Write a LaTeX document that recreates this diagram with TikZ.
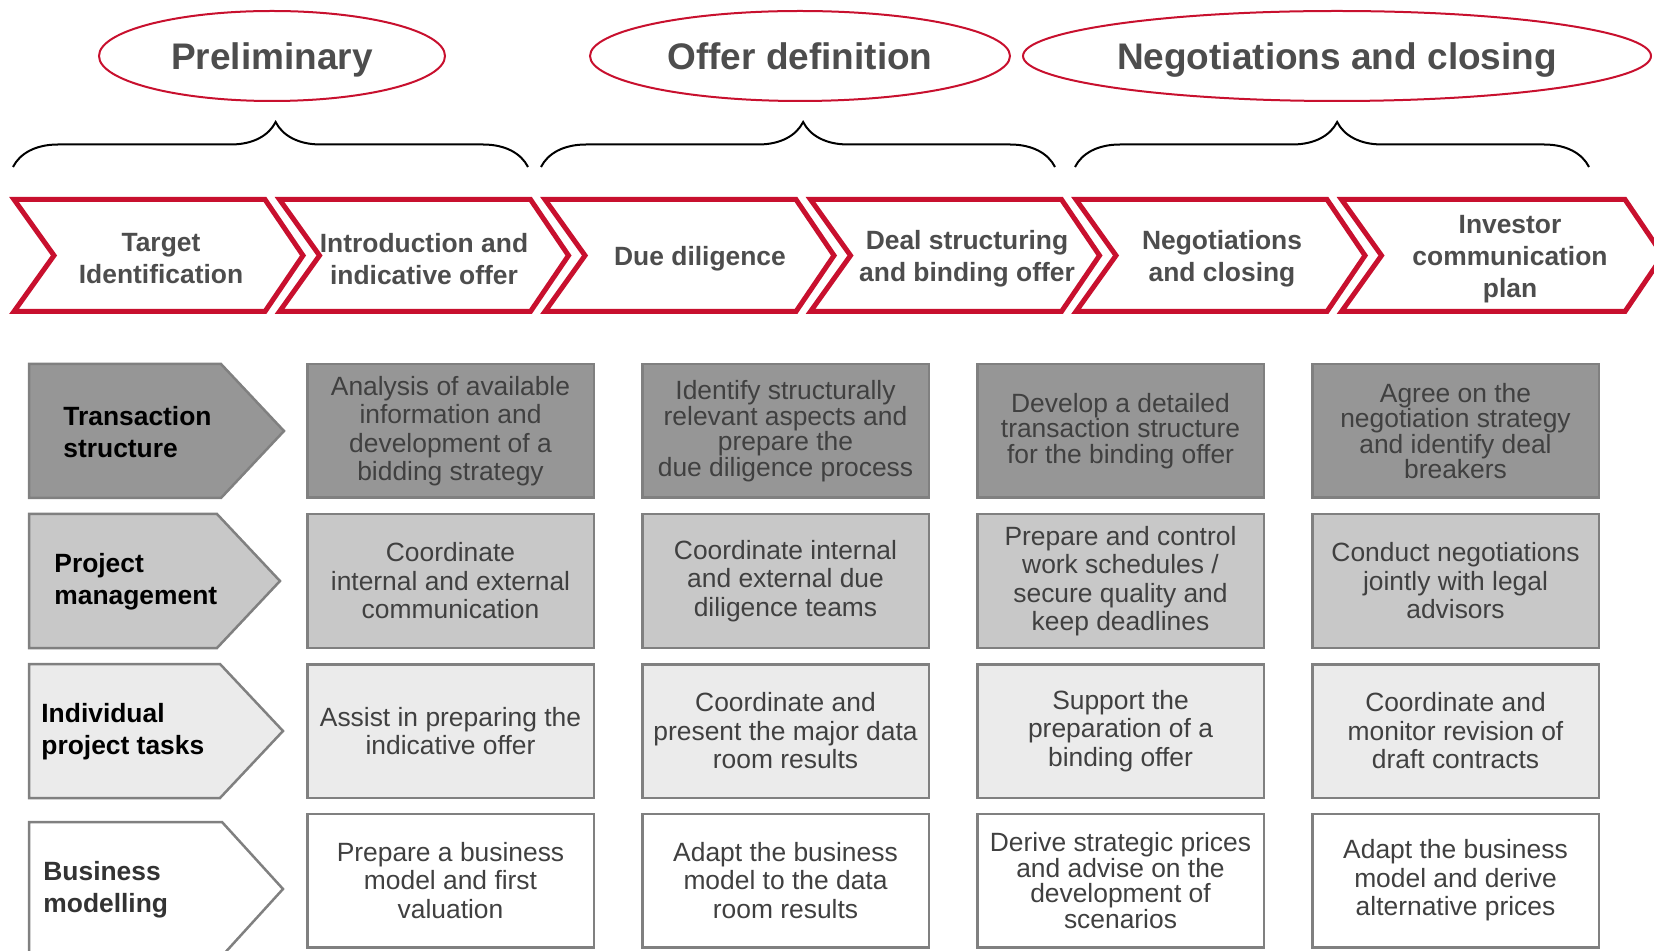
\documentclass[tikz,border=0pt]{standalone}
\usepackage{fontspec}
\setmainfont{Liberation Sans}
\usetikzlibrary{shapes.geometric,decorations.pathreplacing}

\definecolor{dealred}{RGB}{200,16,46}
\definecolor{headgray}{RGB}{77,77,77}
\definecolor{boxtext}{RGB}{64,64,64}
\definecolor{edgegray}{RGB}{128,128,128}
\definecolor{rowdark}{RGB}{150,150,150}
\definecolor{rowmid}{RGB}{200,200,200}
\definecolor{rowlight}{RGB}{235,235,235}

\begin{document}
\begin{tikzpicture}[x=0.5pt, y=-0.5pt,
  phasering/.style = {draw=dealred, line width=1pt, ellipse, minimum height=45pt, inner sep=0pt,
    text height=13.3pt, text depth=0pt, text=headgray, font=\fontsize{18.5}{22}\selectfont\bfseries},
  bracket/.style = {draw=black, line width=1pt, decorate, decoration={brace, amplitude=22.5pt, aspect=0.51}},
  stagebox/.style = {draw=dealred, line width=2.5pt, fill=white},
  stagetext/.style = {align=center, inner sep=0pt, text=headgray, font=\fontsize{13.2}{16}\selectfont\bfseries},
  rowbox/.style = {draw=edgegray, line width=1.25pt},
  rowtext/.style = {anchor=west, align=left, inner sep=0pt, font=\fontsize{13.2}{16}\selectfont\bfseries},
  taskcell/.style = {draw=edgegray, line width=1.25pt, minimum width=143.25pt, minimum height=66.75pt,
    align=center, inner sep=0pt, text=boxtext, font=\fontsize{13.2}{14.25}\selectfont},
  tightlead/.style = {font=\fontsize{13.2}{12.75}\selectfont}]
\useasboundingbox (0,0) rectangle (1654,951);

% phases
\node[phasering, minimum width=173pt] (ph1) at (272,56) {Preliminary};
\node[phasering, minimum width=210pt] (ph2) at (800,56) {Offer definition};
\node[phasering, minimum width=314pt] (ph3) at (1337,56) {Negotiations and closing};

\draw[bracket] (13,167) -- (528,167);
\draw[bracket] (541,167) -- (1055,167);
\draw[bracket] (1075,167) -- (1589,167);

% process steps
\foreach \xa in {14, 279.5, 545, 810.5, 1076}
  \draw[stagebox] (\xa,199.5) -- ++(251,0) -- ++(38,56) -- ++(-38,56) -- ++(-251,0) -- ++(40,-56) -- cycle;
\draw[stagebox] (1341.5,199.5) -- ++(283.5,0) -- ++(38,56) -- ++(-38,56) -- ++(-283.5,0) -- ++(40,-56) -- cycle;

\node[stagetext] (st1) at (161,259) {Target\\Identification};
\node[stagetext] (st2) at (424,259) {Introduction and\\indicative offer};
\node[stagetext] (st3) at (700,259) {Due diligence};
\node[stagetext] (st4) at (967,259) {Deal structuring\\and binding offer};
\node[stagetext] (st5) at (1222,259) {Negotiations\\and closing};
\node[stagetext] (st6) at (1510,259) {Investor\\communication\\plan};

% row headers
\draw[rowbox, fill=rowdark] (29,364) -- (221,364) -- (284,431) -- (221,498) -- (29,498) -- cycle;
\draw[rowbox, fill=rowmid] (29,514) -- (217,514) -- (280,581) -- (217,648) -- (29,648) -- cycle;
\draw[rowbox, fill=rowlight] (29,664) -- (220,664) -- (283,731) -- (220,798) -- (29,798) -- cycle;
\draw[rowbox, fill=white] (29,822) -- (222,822) -- (283,889) -- (222,956) -- (29,956) -- cycle;

\node[rowtext] (lb1) at (63,432) {Transaction\\structure};
\node[rowtext] (lb2) at (54,582) {Project\\management};
\node[rowtext] (lb3) at (41,732) {Individual\\project tasks};
\node[rowtext, text=black!80] (lb4) at (43,890) {Business\\modelling};

% transaction structure
\node[taskcell, fill=rowdark] (ts1) at (450.5,431) {Analysis of available\\information and\\development of a\\bidding strategy};
\node[taskcell, fill=rowdark, tightlead] (ts2) at (785.5,431) {Identify structurally\\relevant aspects and\\prepare the\\due diligence process};
\node[taskcell, fill=rowdark, tightlead] (ts3) at (1120.5,431) {Develop a detailed\\transaction structure\\for the binding offer};
\node[taskcell, fill=rowdark, tightlead] (ts4) at (1455.5,431) {Agree on the\\negotiation strategy\\and identify deal\\breakers};

% project management
\node[taskcell, fill=rowmid] (pm1) at (450.5,581) {Coordinate\\internal and external\\communication};
\node[taskcell, fill=rowmid] (pm2) at (785.5,581) {Coordinate internal\\and external due\\diligence teams};
\node[taskcell, fill=rowmid] (pm3) at (1120.5,581) {Prepare and control\\work schedules /\\secure quality and\\keep deadlines};
\node[taskcell, fill=rowmid] (pm4) at (1455.5,581) {Conduct negotiations\\jointly with legal\\advisors};

% individual project tasks
\node[taskcell, fill=rowlight] (pt1) at (450.5,731) {Assist in preparing the\\indicative offer};
\node[taskcell, fill=rowlight] (pt2) at (785.5,731) {Coordinate and\\present the major data\\room results};
\node[taskcell, fill=rowlight] (pt3) at (1120.5,731) {Support the\\preparation of a\\binding offer};
\node[taskcell, fill=rowlight] (pt4) at (1455.5,731) {Coordinate and\\monitor revision of\\draft contracts};

% business modelling
\node[taskcell, fill=white] (bm1) at (450.5,880.5) {Prepare a business\\model and first\\valuation};
\node[taskcell, fill=white] (bm2) at (785.5,880.5) {Adapt the business\\model to the data\\room results};
\node[taskcell, fill=white, tightlead] (bm3) at (1120.5,880.5) {Derive strategic prices\\and advise on the\\development of\\scenarios};
\node[taskcell, fill=white] (bm4) at (1455.5,880.5) {Adapt the business\\model and derive\\alternative prices};
\end{tikzpicture}
\end{document}
